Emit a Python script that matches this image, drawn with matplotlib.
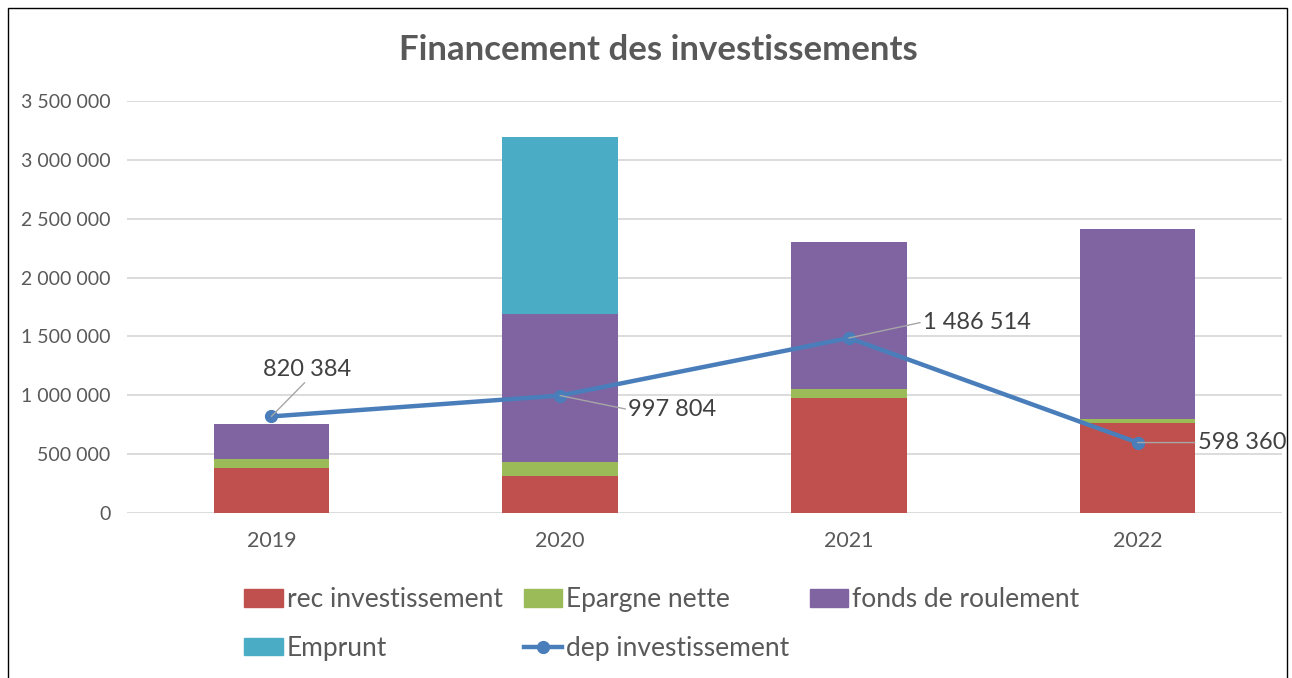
import matplotlib.pyplot as plt
import numpy as np
from matplotlib.patches import Rectangle
from matplotlib.lines import Line2D

plt.rcParams['font.family'] = ['Lato', 'DejaVu Sans']

# Data
years = ["2019", "2020", "2021", "2022"]
rec_invest = [385000, 317000, 977000, 767000]
epargne_nette = [76000, 116000, 74000, 32000]
fonds_roulement = [295000, 1255000, 1249000, 1614000]
emprunt = [0, 1507000, 0, 0]
dep_invest = [820384, 997804, 1486514, 598360]

c_red = "#C0504D"
c_green = "#9BBB59"
c_purple = "#8064A2"
c_teal = "#4BACC6"
c_line = "#4A7EBB"
c_text = "#595959"

def fmt(v):
    return f"{int(v):,}".replace(",", " ")

fig = plt.figure(figsize=(12.92, 6.78), dpi=100)
ax = fig.add_axes([127 / 1292, 1 - 513 / 678, 1155 / 1292, 412 / 678])

x = np.arange(len(years))
w = 0.4
b1 = np.array(rec_invest)
b2 = b1 + np.array(epargne_nette)
b3 = b2 + np.array(fonds_roulement)
ax.bar(x, rec_invest, w, color=c_red, zorder=2)
ax.bar(x, epargne_nette, w, bottom=b1, color=c_green, zorder=2)
ax.bar(x, fonds_roulement, w, bottom=b2, color=c_purple, zorder=2)
ax.bar(x, emprunt, w, bottom=b3, color=c_teal, zorder=2)
ax.plot(x, dep_invest, color=c_line, lw=3.2, marker='o', ms=8.5, zorder=4)

# data labels with leader lines (offsets in pixels)
offsets = [(36, 47), (68, -14), (74, 16), (60, 0)]
has = ['center', 'left', 'left', 'left']
for i, v in enumerate(dep_invest):
    dx, dy = offsets[i]
    ax.annotate(fmt(v), xy=(x[i], v), xytext=(dx, dy), textcoords='offset pixels',
                ha=has[i], va='center', fontsize=17, color="#404040", zorder=5,
                arrowprops=dict(arrowstyle='-', color='#A6A6A6', lw=1,
                                shrinkA=0, shrinkB=0, relpos=(0.5, 0) if i == 0 else (0, 0.5)))

ax.set_xlim(-0.5, 3.5)
ax.set_ylim(0, 3500000)
ax.set_yticks(np.arange(0, 3500001, 500000))
ax.set_yticklabels([fmt(v) for v in np.arange(0, 3500001, 500000)])
ax.set_xticks(x)
ax.set_xticklabels(years)
ax.tick_params(axis='y', length=0, labelsize=14, labelcolor=c_text, pad=12)
ax.tick_params(axis='x', length=0, labelsize=15.5, labelcolor=c_text, pad=13)
ax.yaxis.grid(True, color="#D9D9D9", lw=1.3, zorder=0)
ax.set_axisbelow(True)
for s in ax.spines.values():
    s.set_visible(False)

fig.text(658 / 1292, 1 - 50 / 678, "Financement des investissements", ha='center', va='center',
         fontsize=25, fontweight='bold', color=c_text)

handles = [
    Rectangle((0, 0), 1, 1, color=c_red),
    Rectangle((0, 0), 1, 1, color=c_teal),
    Rectangle((0, 0), 1, 1, color=c_green),
    Line2D([], [], color=c_line, lw=3.2, marker='o', ms=8.5),
    Rectangle((0, 0), 1, 1, color=c_purple),
]
labels = ["rec investissement", "Emprunt", "Epargne nette", "dep investissement", "fonds de roulement"]
fig.legend(handles, labels, ncol=3, loc='center', bbox_to_anchor=(662 / 1292, 1 - 624 / 678),
           frameon=False, fontsize=19, labelcolor=c_text, handlelength=1.45, handleheight=0.65,
           handletextpad=0.15, columnspacing=0.8, labelspacing=0.9)

fig.add_artist(Rectangle((8 / 1292, -0.01), 1279 / 1292, 1 - 8 / 678 + 0.01, transform=fig.transFigure,
                         fill=False, edgecolor='black', lw=1))

fig.savefig("out.png", dpi=100)
